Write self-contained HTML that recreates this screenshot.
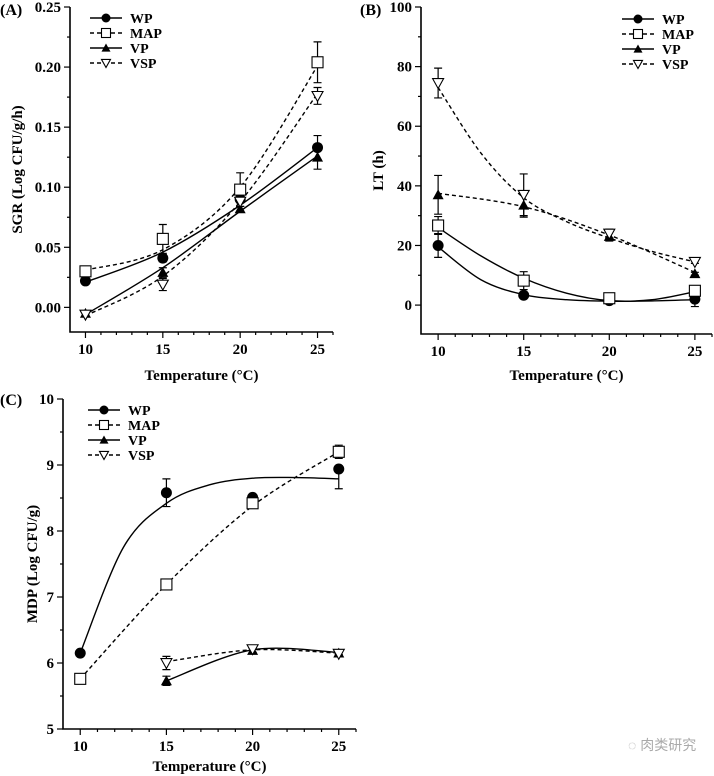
<!DOCTYPE html>
<html><head><meta charset="utf-8"><style>
body{margin:0;background:#fff;width:714px;height:776px;overflow:hidden}
svg{display:block;font-family:"Liberation Serif",serif;font-weight:bold}
</style></head><body>
<svg id="s" width="714" height="776" xmlns="http://www.w3.org/2000/svg">
<text x="628" y="750" font-family="'Liberation Sans','Noto Sans CJK SC',sans-serif" font-weight="normal" font-size="14" fill="#aaa">◌ 肉类研究</text>
</svg>
<script>
const temps=[10,15,20,25];
const fitT=[10,12.5,15,17.5,20,22.5,25];
const series=["WP","MAP","VP","VSP"];
// Panel A values
const aWP=[0.022,0.041,0.090,0.133], aWPe=[0,0.003,0.003,0.010], aWPf=[0.021,0.046,0.085,0.133];
const aMAP=[0.030,0.057,0.098,0.204], aMAPe=[0,0.012,0.014,0.017], aMAPf=[0.031,0.048,0.100,0.201];
const aVP=[-0.005,0.029,0.082,0.125], aVPe=[0,0.004,0.002,0.010], aVPf=[-0.006,0.033,0.080,0.126];
const aVSP=[-0.006,0.019,0.088,0.176], aVSPe=[0,0.005,0.004,0.007], aVSPf=[-0.007,0.026,0.088,0.178];
const aTicks=["0.00","0.05","0.10","0.15","0.20","0.25"];
// Panel B values
const bWP=[20,3.3,1.5,2], bWPe=[4,0.8,0.5,2.5], bWPf=[19.5,8.5,3.5,1.8,1.3,1.4,1.8];
const bMAP=[26.7,8.2,2.3,4.8], bMAPe=[3,3,0.5,0.8], bMAPf=[26,16.5,9,4,1.5,1.8,4.5];
const bVP=[37,33.5,23,10.5], bVPe=[6.5,4,1.5,0.5], bVPf=[37.5,33,23.5,11];
const bVSP=[74.5,37,24,14.5], bVSPe=[5,7,1.5,0.5], bVSPf=[73,51,36,28,22.5,18,14.5];
const bTicks=["0","20","40","60","80","100"];
// Panel C values
const cWP=[6.15,8.58,8.51,8.94], cWPe=[0,0.21,0,0], cWPf=[6.15,7.75,8.42,8.7,8.8,8.81,8.79], cWPfe=[0,0,0,0.15];
const cMAP=[5.76,7.19,8.42,9.2], cMAPe=[0,0,0,0.1], cMAPf=[5.76,7.19,8.38,9.2];
const cVP=[null,5.73,6.19,6.15], cVPe=[0,0.07,0.03,0.02], cVPf=[null,5.73,6.2,6.16];
const cVSP=[null,6.0,6.21,6.14], cVSPe=[0,0.1,0.05,0.02], cVSPf=[null,6.02,6.2,6.15];
const cTicks=["5","6","7","8","9","10"];

const svg=document.getElementById('s');const NS="http://www.w3.org/2000/svg";
function el(t,a,p){const e=document.createElementNS(NS,t);for(const k in a)e.setAttribute(k,a[k]);(p||svg).appendChild(e);return e;}
function txt(x,y,s,a,p){const e=el('text',Object.assign({x:x,y:y},a),p);e.textContent=s;return e;}

function panel(cfg){
  const g=el('g',{});
  
  
  const X=t=>cfg.x0+(t-9)*(cfg.x1-cfg.x0)/17;
  const Y=v=>cfg.yb+(v-cfg.ymin)*(cfg.yt-cfg.yb)/(cfg.ymax-cfg.ymin);
  const ax=el('path',{d:`M${cfg.x0} ${Y(cfg.ymax)}V${cfg.yb}H${cfg.x1}`,stroke:'#000','stroke-width':1.6,fill:'none'},g);
  
  for(let t=10;t<=26;t++){const maj=(t%5==0)&&t<26;el('line',{x1:X(t),x2:X(t),y1:cfg.yb,y2:cfg.yb+(maj?6:3),stroke:'#000','stroke-width':1.2},g);
    if(maj){const l=txt(X(t),cfg.yb+22,String(t),{'font-size':15,'text-anchor':'middle'},g);}}
  const n=cfg.ticks.length, step=(cfg.ymax-cfg.ymin0)/(n-1);
  for(let i=0;i<n;i++){const v=cfg.ymin0+i*step;el('line',{x1:cfg.x0-6,x2:cfg.x0,y1:Y(v),y2:Y(v),stroke:'#000','stroke-width':1.2},g);
    if(i<n-1)el('line',{x1:cfg.x0-3,x2:cfg.x0,y1:Y(v+step/2),y2:Y(v+step/2),stroke:'#000','stroke-width':1.2},g);
    const l=txt(cfg.x0-9,Y(v)+5,cfg.ticks[i],{'font-size':15,'text-anchor':'end'},g);}
  if(cfg.ymin0-step/2>=cfg.ymin)el('line',{x1:cfg.x0-3,x2:cfg.x0,y1:Y(cfg.ymin0-step/2),y2:Y(cfg.ymin0-step/2),stroke:'#000','stroke-width':1.2},g);
  const xt=txt((cfg.x0+cfg.x1)/2,cfg.xtY,"Temperature (°C)",{'font-size':15,'text-anchor':'middle'},g);
  
  const yt=txt(0,0,cfg.ytitle,{'font-size':15,'text-anchor':'middle',transform:`translate(${cfg.ytX},${(Y(cfg.ymax)+cfg.yb)/2}) rotate(-90)`},g);
  
  const pl=txt(cfg.labX,cfg.labY,cfg.label,{'font-size':16},g);
  cfg.series.forEach((s,si)=>{
    const sg=el('g',{},g);
    
    
    const ft=s.f.length==fitT.length?fitT:temps;
    const pts=[];ft.forEach((t,i)=>{if(s.f[i]!=null)pts.push([X(t),Y(s.f[i])]);});
    let d=`M${pts[0][0]} ${pts[0][1]}`;
    for(let i=0;i<pts.length-1;i++){const p0=pts[i-1]||pts[i],p1=pts[i],p2=pts[i+1],p3=pts[i+2]||p2;
      d+=`C${p1[0]+(p2[0]-p0[0])/6} ${p1[1]+(p2[1]-p0[1])/6} ${p2[0]-(p3[0]-p1[0])/6} ${p2[1]-(p3[1]-p1[1])/6} ${p2[0]} ${p2[1]}`;}
    el('path',{d:d,fill:'none',stroke:'#000','stroke-width':1.4,'stroke-dasharray':s.dash?'4 3':'none'},sg);
    temps.forEach((t,i)=>{
      if(s.v[i]==null)return;
      const e=s.e[i];
      const bars=[[s.v[i],e]];
      if(s.ec&&s.ec[i]>0)bars.push([s.f[ft.indexOf(t)],s.ec[i]]);
      bars.forEach(([cv,er])=>{if(er>0){const x=X(t);el('path',{d:`M${x} ${Y(cv-er)}V${Y(cv+er)}M${x-4} ${Y(cv+er)}H${x+4}M${x-4} ${Y(cv-er)}H${x+4}`,stroke:'#000','stroke-width':1.2,fill:'none'},sg);}});
      marker(sg,si,X(t),Y(s.v[i]),5.5);
    });
  });
  const lg=el('g',{},g);
  series.forEach((nm,i)=>{const y=cfg.legY+i*15;const dash=(i%2==1);
    el('line',{x1:cfg.legX,x2:cfg.legX+32,y1:y,y2:y,stroke:'#000','stroke-width':1.4,'stroke-dasharray':dash?'4 3':'none'},lg);
    marker(lg,i,cfg.legX+16,y,4.5);
    const t=txt(cfg.legX+40,y+5,nm,{'font-size':14},lg);});
}
function marker(p,si,x,y,r){
  if(si==0)el('circle',{cx:x,cy:y,r:r,fill:'#000'},p);
  else if(si==1)el('rect',{x:x-r,y:y-r,width:2*r,height:2*r,fill:'#fff',stroke:'#000','stroke-width':1.1},p);
  else if(si==2)el('path',{d:`M${x} ${y-r}L${x+r} ${y+r*0.8}L${x-r} ${y+r*0.8}Z`,fill:'#000'},p);
  else el('path',{d:`M${x} ${y+r}L${x+r} ${y-r*0.8}L${x-r} ${y-r*0.8}Z`,fill:'#fff',stroke:'#000','stroke-width':1.1},p);
}
panel({name:'panel-a-sgr',x0:70,x1:333,yb:332,yt:7,ymin:-0.0205,ymin0:0,ymax:0.25,ticks:aTicks,ytitle:'SGR (Log CFU/g/h)',ytX:22,xtY:380,label:'(A)',labX:0,labY:15,legX:90,legY:18,
 series:[{v:aWP,e:aWPe,f:aWPf},{v:aMAP,e:aMAPe,f:aMAPf,dash:1},{v:aVP,e:aVPe,f:aVPf},{v:aVSP,e:aVSPe,f:aVSPf,dash:1}]});
panel({name:'panel-b-lt',x0:421,x1:712,yb:334,yt:7,ymin:-9.7,ymin0:0,ymax:100,ticks:bTicks,ytitle:'LT (h)',ytX:383,xtY:380,label:'(B)',labX:360,labY:15,legX:622,legY:19,
 series:[{v:bWP,e:bWPe,f:bWPf},{v:bMAP,e:bMAPe,f:bMAPf},{v:bVP,e:bVPe,f:bVPf,dash:1},{v:bVSP,e:bVSPe,f:bVSPf,dash:1}]});
panel({name:'panel-c-mdp',x0:63,x1:356,yb:729,yt:399,ymin:5,ymin0:5,ymax:10,ticks:cTicks,ytitle:'MDP (Log CFU/g)',ytX:37,xtY:771,label:'(C)',labX:0,labY:405,legX:88,legY:410,
 series:[{v:cWP,e:cWPe,f:cWPf,ec:cWPfe},{v:cMAP,e:cMAPe,f:cMAPf,dash:1},{v:cVP,e:cVPe,f:cVPf},{v:cVSP,e:cVSPe,f:cVSPf,dash:1}]});
</script>
</body></html>
